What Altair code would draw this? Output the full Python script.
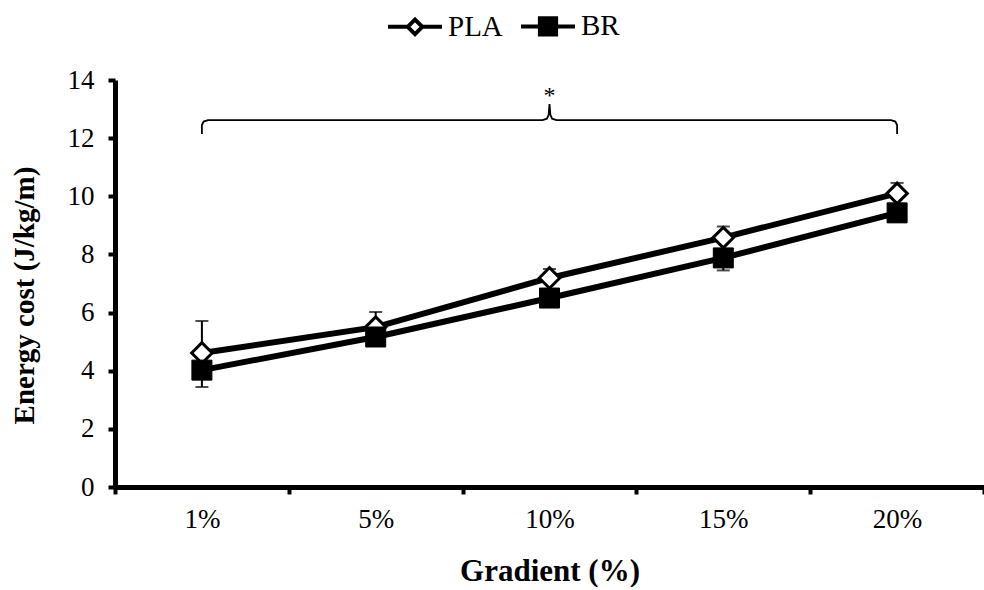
import altair as alt
import pandas as pd

# ---- data ----
gradients = ["1%", "5%", "10%", "15%", "20%"]
conditions = ["PLA", "BR"]
pla_mean = [4.61, 5.50, 7.19, 8.58, 10.10]
pla_sd = [1.10, 0.52, 0.31, 0.38, 0.36]
br_mean = [4.02, 5.16, 6.50, 7.88, 9.43]
br_sd = [0.58, 0.30, 0.25, 0.43, 0.30]

# significance brace annotation (x in gradient-index units, y in J/kg/m)
brace_x = [0.0, 0.0, 0.01, 0.035, 1.96, 1.985, 1.995, 2.0, 2.005, 2.015, 2.04, 3.965, 3.99, 4.0, 4.0]
brace_y = [12.14, 12.45, 12.57, 12.62, 12.62, 12.67, 12.8, 13.17, 12.8, 12.67, 12.62, 12.62, 12.57, 12.45, 12.14]
star_x = [2.0]
star_y = [13.2]
star_text = ["*"]

FONT = "Liberation Serif"

rows = []
for g, m, s in zip(gradients, pla_mean, pla_sd):
    rows.append({"Gradient": g, "Condition": "PLA", "mean": m, "lo": m, "hi": m + s, "cap": m + s})
for g, m, s in zip(gradients, br_mean, br_sd):
    rows.append({"Gradient": g, "Condition": "BR", "mean": m, "lo": m - s, "hi": m, "cap": m - s})
df = pd.DataFrame(rows)

brace_df = pd.DataFrame({"bx": brace_x, "by": brace_y, "i": list(range(len(brace_x)))})
star_df = pd.DataFrame({"bx": star_x, "by": star_y, "t": star_text})

x_axis = alt.Axis(
    title="Gradient (%)",
    tickBand="extent",
    labelAngle=0,
    labelPadding=12,
    labelFont=FONT,
    labelFontSize=27,
    titleFontSize=31,
    titleBaseline="alphabetic",
    titleY=93,
)
x_enc = alt.X(
    "Gradient:N",
    sort=gradients,
    scale=alt.Scale(domain=gradients, paddingInner=0, paddingOuter=0),
    axis=x_axis,
)
y_scale = alt.Scale(domain=[0, 14], nice=False, zero=True)
y_axis = alt.Axis(
    values=list(range(0, 15, 2)),
    title="Energy cost (J/kg/m)",
    labelPadding=14,
    labelFont=FONT,
    labelFontSize=27,
    titleFontSize=29,
    titleAngle=270,
    titleAlign="center",
    titleBaseline="alphabetic",
    titleX=-82,
    titleY=215,
)


def yq(field):
    return alt.Y(field, scale=y_scale, axis=y_axis)


base = alt.Chart(df)

lines = base.mark_line(color="black", strokeWidth=6).encode(
    x=x_enc, y=yq("mean:Q"), detail="Condition:N"
)
err_rules = base.mark_rule(color="black", strokeWidth=2).encode(
    x=x_enc, y=yq("lo:Q"), y2="hi:Q"
)
err_caps = base.mark_tick(color="black", thickness=2, size=13).encode(
    x=x_enc, y=yq("cap:Q")
)
pla_pts = base.transform_filter(alt.datum.Condition == "PLA").mark_point(
    shape="diamond", filled=True, fill="white", stroke="black", strokeWidth=3, size=420, opacity=1
).encode(x=x_enc, y=yq("mean:Q"))
br_pts = base.transform_filter(alt.datum.Condition == "BR").mark_point(
    shape="square", filled=True, fill="black", stroke="black", strokeWidth=1, size=400, opacity=1
).encode(x=x_enc, y=yq("mean:Q"))

path_pla = "M-1,0L-0.27,0L0,-0.27L0.27,0L0,0.27L-0.27,0M0.27,0L1,0"
path_br = "M-1,0L-0.3,0M-0.3,-0.3L0.3,-0.3L0.3,0.3L-0.3,0.3ZM0.3,0L1,0"

leg = alt.Legend(
    title=None,
    orient="none",
    legendX=271,
    legendY=-83,
    direction="horizontal",
    symbolSize=2916,
    symbolStrokeWidth=4,
    symbolStrokeColor="black",
    symbolOpacity=1,
    labelFont=FONT,
    labelFontSize=29,
    labelColor="black",
    labelOffset=4,
    columnPadding=10,
    padding=0,
)
legend_layer = base.mark_point(filled=True, opacity=0, strokeWidth=4).encode(
    x=x_enc,
    y=yq("mean:Q"),
    shape=alt.Shape("Condition:N", scale=alt.Scale(domain=conditions, range=[path_pla, path_br]), legend=leg),
    fill=alt.Fill("Condition:N", scale=alt.Scale(domain=conditions, range=["white", "black"]), legend=leg),
    stroke=alt.Stroke("Condition:N", scale=alt.Scale(domain=conditions, range=["black", "black"]), legend=leg),
)

main = alt.layer(lines, err_rules, err_caps, pla_pts, br_pts, legend_layer)

bx_scale = alt.Scale(domain=[-0.5, 4.5], nice=False, zero=False)
brace = alt.Chart(brace_df).mark_line(color="black", strokeWidth=1.8).encode(
    x=alt.X("bx:Q", scale=bx_scale, axis=None),
    y=alt.Y("by:Q", scale=y_scale, axis=y_axis),
    order="i:Q",
)
star = alt.Chart(star_df).mark_text(font=FONT, fontSize=24, baseline="alphabetic", color="black").encode(
    x=alt.X("bx:Q", scale=bx_scale, axis=None),
    y=alt.Y("by:Q", scale=y_scale, axis=y_axis),
    text="t:N",
)
annot = alt.layer(brace, star)

chart = (
    alt.layer(main, annot)
    .resolve_scale(x="independent")
    .properties(
        width=869,
        height=407,
        autosize="none",
        padding={"left": 115, "top": 80, "right": 0, "bottom": 100},
        background="white",
    )
    .configure(font=FONT)
    .configure_view(stroke=None)
    .configure_axis(
        domainWidth=5,
        domainColor="black",
        tickColor="black",
        tickWidth=4,
        tickSize=7,
        labelFont=FONT,
        labelFontSize=27,
        labelColor="black",
        titleFont=FONT,
        titleFontWeight="bold",
        titleColor="black",
        grid=False,
    )
)

chart.save("out.html", embed_options={"renderer": "svg", "actions": False})
